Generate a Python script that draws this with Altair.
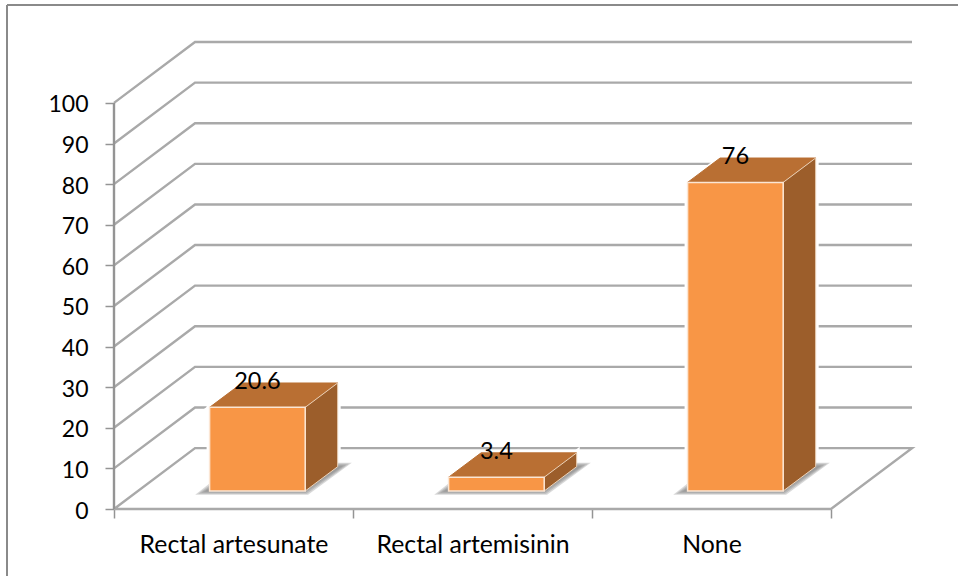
import altair as alt
import pandas as pd

categories = ["Rectal artesunate", "Rectal artemisinin", "None"]
values = [20.6, 3.4, 76]
y_ticks = list(range(0, 101, 10))
x_ticks = [0, 1, 2, 3]

# Oblique projection, in axis units
DEPTH_X, DEPTH_Y = 0.339, 15.0
BAR_DEPTH_X, BAR_DEPTH_Y = 0.136, 6.0
BASE_Y = 4.43
BAR_LEFT, BAR_RIGHT = 0.4, 0.8

GRID = "#a9a9a9"
AXIS = "#949494"
FRONT = "#f89646"
TOP = "#b96f33"
SIDE = "#9c5e2b"
FONT = "Lato"

x_scale = alt.Scale(domain=[0, 3 + DEPTH_X], nice=False, zero=False)
y_scale = alt.Scale(domain=[0, 115], nice=False, zero=False)


def X(field, **kw):
    return alt.X(field, type="quantitative", scale=x_scale, title=None, **kw)


def Y(field, **kw):
    return alt.Y(field, type="quantitative", scale=y_scale, title=None, **kw)


# Gridlines run up the side wall and along the back wall
grid_rows = []
for v in y_ticks:
    grid_rows.append({"level": v, "o": 0, "x": 0, "y": v})
    grid_rows.append({"level": v, "o": 1, "x": DEPTH_X, "y": v + DEPTH_Y})
    grid_rows.append({"level": v, "o": 2, "x": 3 + DEPTH_X, "y": v + DEPTH_Y})
grid_rows.append({"level": 0, "o": 3, "x": 3, "y": 0})
grid_rows.append({"level": 0, "o": 4, "x": 0, "y": 0})

bars = pd.DataFrame({
    "name": categories,
    "value": values,
    "left": [i + BAR_LEFT for i in range(3)],
    "right": [i + BAR_RIGHT for i in range(3)],
    "mid": [i + (BAR_LEFT + BAR_RIGHT) / 2 for i in range(3)],
    "base": [BASE_Y] * 3,
    "top": [BASE_Y + v for v in values],
})

top_rows, side_rows, shadow_rows = [], [], []
for i, v in enumerate(values):
    l, r, t = i + BAR_LEFT, i + BAR_RIGHT, BASE_Y + v
    top_rows += [
        {"bar": i, "ya": t, "xa": l, "xb": r},
        {"bar": i, "ya": t + BAR_DEPTH_Y, "xa": l + BAR_DEPTH_X, "xb": r + BAR_DEPTH_X},
    ]
    side_rows += [
        {"bar": i, "xa": r, "ya": BASE_Y, "yb": t},
        {"bar": i, "xa": r + BAR_DEPTH_X, "ya": BASE_Y + BAR_DEPTH_Y, "yb": t + BAR_DEPTH_Y},
    ]
    # Soft cast shadow on the floor, built from stacked translucent bands
    for spread, band in enumerate([0.0, 0.012, 0.024, 0.036]):
        shadow_rows += [
            {"bar": i, "band": spread, "ya": 3.5 + spread * 0.25,
             "xa": l - 0.06 + band, "xb": r + 0.012 - band * 0.4},
            {"bar": i, "band": spread, "ya": 11.4 - spread * 0.25,
             "xa": l + 0.11 + band, "xb": r + 0.195 - band},
        ]

# Walls and floor
grid = alt.Chart(pd.DataFrame(grid_rows)).mark_line(color=GRID, strokeWidth=2.4).encode(
    x=X("x", axis=alt.Axis(
        values=x_ticks, grid=False, domain=False, tickSize=9, tickWidth=1.5, tickColor=AXIS,
        labelExpr="[" + ",".join(repr(c) for c in categories) + ",''][datum.value]",
        labelOffset=119.5, labelAlign="center", labelBaseline="middle", labelPadding=27,
        labelFontSize=24.8, labelFont=FONT, labelColor="#000000", labelBound=False,
        labelFlush=False, labelLimit=400,
    )),
    y=Y("y", axis=alt.Axis(
        values=y_ticks, grid=False, domain=False, tickSize=9, tickWidth=1.5, tickColor=AXIS,
        labelFontSize=23, labelFont=FONT, labelColor="#000000", labelPadding=17, labelOffset=2,
    )),
    detail="level:N",
    order="o:Q",
)

y_line = alt.Chart(pd.DataFrame({"x": [0, 0], "y": [0, 100]})).mark_line(
    color=AXIS, strokeWidth=2.4
).encode(x=X("x"), y=Y("y"))

# Thin outer frame: only the top and left edges are visible
frame_top = alt.Chart(pd.DataFrame({"k": [0]})).mark_rule(color="#8a8a8a", strokeWidth=2).encode(
    x=alt.value(-107), x2=alt.value(844), y=alt.value(-37)
)
frame_left = alt.Chart(pd.DataFrame({"k": [0]})).mark_rule(color="#8a8a8a", strokeWidth=2).encode(
    x=alt.value(-107), y=alt.value(-37), y2=alt.value(534)
)

shadow = alt.Chart(pd.DataFrame(shadow_rows)).mark_area(
    orient="horizontal", color="#7d7d7d", opacity=0.3
).encode(y=Y("ya"), x=X("xa"), x2=alt.X2("xb"), detail=["bar:N", "band:N"])

halo_side = alt.Chart(pd.DataFrame(side_rows)).mark_area(
    orient="vertical", color="#ffffff", stroke="#ffffff", strokeWidth=6
).encode(x=X("xa"), y=Y("ya"), y2=alt.Y2("yb"), detail="bar:N")

halo_top = alt.Chart(pd.DataFrame(top_rows)).mark_area(
    orient="horizontal", color="#ffffff", stroke="#ffffff", strokeWidth=4
).encode(y=Y("ya"), x=X("xa"), x2=alt.X2("xb"), detail="bar:N")

halo_front = alt.Chart(bars).mark_rect(color="#ffffff", stroke="#ffffff", strokeWidth=6).encode(
    x=X("left"), x2="right:Q", y=Y("base"), y2="top:Q"
)

top = alt.Chart(pd.DataFrame(top_rows)).mark_area(
    orient="horizontal", color=TOP, stroke=TOP, strokeWidth=1
).encode(y=Y("ya"), x=X("xa"), x2=alt.X2("xb"), detail="bar:N")

side = alt.Chart(pd.DataFrame(side_rows)).mark_area(
    orient="vertical", color=SIDE, stroke="#ecd2b8", strokeWidth=1
).encode(x=X("xa"), y=Y("ya"), y2=alt.Y2("yb"), detail="bar:N")

front = alt.Chart(bars).mark_rect(color=FRONT, stroke="#fbe6d4", strokeWidth=1.5).encode(
    x=X("left"), x2="right:Q", y=Y("base"), y2="top:Q"
)

labels = alt.Chart(bars).mark_text(
    font=FONT, fontSize=23.5, color="#000000", baseline="middle", align="center", dy=-25
).encode(x=X("mid"), y=Y("top"), text=alt.Text("value:Q", format=".4~f"))

chart = alt.layer(
    grid, y_line, frame_top, frame_left, halo_side, halo_top, halo_front,
    shadow, top, side, front, labels,
).properties(
    width=798,
    height=467,
    padding={"left": 114, "top": 42, "right": 46, "bottom": 67},
    autosize=alt.AutoSizeParams(type="none"),
    background="#ffffff",
).configure_view(stroke=None)

chart.save("out.html", embed_options={"renderer": "svg", "actions": False})
